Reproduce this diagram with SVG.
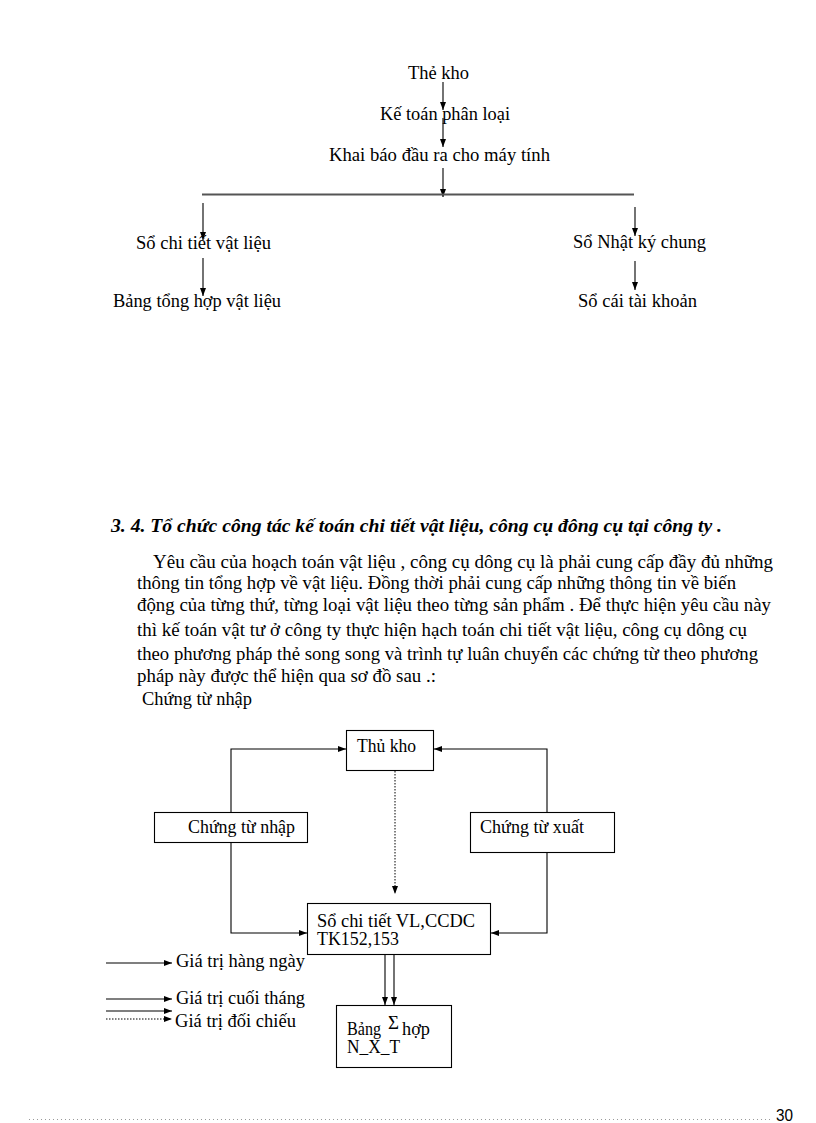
<svg xmlns="http://www.w3.org/2000/svg" width="816" height="1123" viewBox="0 0 816 1123" font-family="'Liberation Serif', 'Times New Roman', serif">
<style>
  text { font-family: 'Liberation Serif', 'Times New Roman', serif; fill: #000; }
  .t { font-size: 18.5px; }
  .h { font-size: 18.5px; font-weight: bold; font-style: italic; }
  .p { font-size: 18.5px; }
  .box { fill: #fff; stroke: #000; stroke-width: 1.1; }
  .ln { fill: none; stroke: #000; stroke-width: 1.1; }
  .dot { fill: none; stroke: #000; stroke-width: 1; stroke-dasharray: 1.5 1.5; }
  text.pg { font-family: 'Liberation Sans', Arial, sans-serif; font-size: 17px; }
</style>
<defs>
  <marker id="ah" viewBox="0 0 8 6" refX="8" refY="3" markerWidth="8" markerHeight="6" orient="auto" markerUnits="userSpaceOnUse">
    <path d="M0,0 L8,3 L0,6 z" fill="#000"/>
  </marker>
</defs>
<rect width="816" height="1123" fill="#fff"/>

<!-- Top flow -->
<g id="top-connectors">
  <line class="ln" x1="443" y1="82" x2="443" y2="110" marker-end="url(#ah)"/>
  <line class="ln" x1="443" y1="118" x2="443" y2="147" marker-end="url(#ah)"/>
  <line class="ln" x1="443" y1="168" x2="443" y2="197" marker-end="url(#ah)"/>
  <line x1="202" y1="194.5" x2="634" y2="194.5" stroke="#555" stroke-width="2"/>
  <line class="ln" x1="203" y1="203" x2="203" y2="240" marker-end="url(#ah)"/>
  <line class="ln" x1="203" y1="258" x2="203" y2="296" marker-end="url(#ah)"/>
  <line class="ln" x1="635" y1="207" x2="635" y2="236" marker-end="url(#ah)"/>
  <line class="ln" x1="635" y1="261" x2="635" y2="290" marker-end="url(#ah)"/>
</g>
<g id="n-thekho"><text class="t" x="408" y="79" textLength="61" lengthAdjust="spacingAndGlyphs">Thẻ kho</text></g>
<g id="n-ketoan"><text class="t" x="380" y="120" textLength="130" lengthAdjust="spacingAndGlyphs">Kế toán phân loại</text></g>
<g id="n-khaibao"><text class="t" x="329" y="161" textLength="221" lengthAdjust="spacingAndGlyphs">Khai  báo đầu ra cho máy tính</text></g>
<g id="n-sochitiet"><text class="t" x="136" y="249" textLength="135" lengthAdjust="spacingAndGlyphs">Sổ chi tiết  vật liệu</text></g>
<g id="n-bangtonghop"><text class="t" x="113" y="307" textLength="168" lengthAdjust="spacingAndGlyphs">Bảng tổng hợp vật liệu</text></g>
<g id="n-sonhatky"><text class="t" x="573" y="248" textLength="133" lengthAdjust="spacingAndGlyphs">Sổ Nhật ký chung</text></g>
<g id="n-socai"><text class="t" x="578" y="307" textLength="119" lengthAdjust="spacingAndGlyphs">Sổ cái tài khoản</text></g>

<!-- Heading and paragraph -->
<text class="h" x="111" y="532" textLength="611" lengthAdjust="spacingAndGlyphs">3. 4. Tổ chức công tác kế toán chi tiết vật liệu, công cụ đông cụ tại công ty .</text>
<text class="p" x="153" y="568" textLength="620" lengthAdjust="spacingAndGlyphs">Yêu cầu của hoạch toán vật liệu  , công cụ dông cụ là phải cung cấp đầy đủ những</text>
<text class="p" x="137" y="589" textLength="599" lengthAdjust="spacingAndGlyphs">thông tin tổng hợp về vật liệu.  Đồng thời phải cung cấp những thông tin về biến</text>
<text class="p" x="137" y="611" textLength="634" lengthAdjust="spacingAndGlyphs">động của từng thứ, từng loại vật liệu  theo từng sản phẩm . Để thực hiện yêu cầu này</text>
<text class="p" x="137" y="636" textLength="610" lengthAdjust="spacingAndGlyphs">thì kế toán vật tư ở công ty thực hiện hạch toán chi tiết vật liệu,  công cụ dông cụ</text>
<text class="p" x="137" y="660" textLength="621" lengthAdjust="spacingAndGlyphs">theo phương pháp thẻ song song và trình tự luân chuyển các chứng từ theo phương</text>
<text class="p" x="137" y="682" textLength="299" lengthAdjust="spacingAndGlyphs">pháp này được thể hiện  qua sơ đồ sau .:</text>
<text class="p" x="142" y="705" textLength="110" lengthAdjust="spacingAndGlyphs">Chứng từ nhập</text>

<!-- Box diagram connectors -->
<g id="connectors">
  <path class="ln" d="M231,812 V749 H346" marker-end="url(#ah)"/>
  <path class="ln" d="M231,842 V933 H307" marker-end="url(#ah)"/>
  <path class="ln" d="M547,812 V749 H434" marker-end="url(#ah)"/>
  <path class="ln" d="M547,852 V933 H491" marker-end="url(#ah)"/>
  <path class="dot" d="M395,762 V894" marker-end="url(#ah)"/>
  <path class="ln" d="M385,954 V1005" marker-end="url(#ah)"/>
  <path class="ln" d="M394,954 V1005" marker-end="url(#ah)"/>
</g>

<g id="n-thukho">
  <rect class="box" x="346.5" y="730.5" width="87" height="40"/>
  <text class="t" x="357" y="752" textLength="59" lengthAdjust="spacingAndGlyphs">Thủ kho</text>
</g>
<g id="n-chungtunhap">
  <rect class="box" x="154.5" y="812.5" width="153" height="30"/>
  <text class="t" x="188" y="833" textLength="107" lengthAdjust="spacingAndGlyphs">Chứng từ nhập</text>
</g>
<g id="n-chungtuxuat">
  <rect class="box" x="470.5" y="812.5" width="144" height="40"/>
  <text class="t" x="480" y="833" textLength="104" lengthAdjust="spacingAndGlyphs">Chứng từ xuất</text>
</g>
<g id="n-sochitietvl">
  <rect class="box" x="307.5" y="903.5" width="183" height="51"/>
  <text class="t" x="317" y="927" font-size="17" textLength="158" lengthAdjust="spacingAndGlyphs">Sổ chi tiết  VL,CCDC</text>
  <text class="t" x="317" y="945" font-size="17" textLength="82" lengthAdjust="spacingAndGlyphs">TK152,153</text>
</g>
<g id="n-bangth">
  <rect class="box" x="336.5" y="1005.5" width="115" height="62"/>
  <text class="t" x="347" y="1035" font-size="17.5" textLength="34" lengthAdjust="spacingAndGlyphs">Bảng</text>
  <text class="t" x="388" y="1029" font-size="16" textLength="11" lengthAdjust="spacingAndGlyphs">Σ</text>
  <text class="t" x="402" y="1035" font-size="17.5" textLength="28" lengthAdjust="spacingAndGlyphs">hợp</text>
  <text class="t" x="347" y="1053" font-size="17.5" textLength="53" lengthAdjust="spacingAndGlyphs">N_X_T</text>
</g>

<!-- Legend -->
<g id="legend">
  <line class="ln" x1="106" y1="963" x2="172" y2="963" marker-end="url(#ah)"/>
  <text class="t" x="176" y="967" textLength="129" lengthAdjust="spacingAndGlyphs">Giá trị  hàng ngày</text>
  <line class="ln" x1="106" y1="999" x2="172" y2="999" marker-end="url(#ah)"/>
  <text class="t" x="176" y="1004" textLength="129" lengthAdjust="spacingAndGlyphs">Giá trị  cuối tháng</text>
  <line class="ln" x1="106" y1="1011" x2="172" y2="1011" marker-end="url(#ah)"/>
  <line class="dot" x1="106" y1="1019" x2="172" y2="1019" marker-end="url(#ah)"/>
  <text class="t" x="175" y="1027" textLength="121" lengthAdjust="spacingAndGlyphs">Giá trị  đối chiếu</text>
</g>

<!-- Footer -->
<line x1="29" y1="1119.5" x2="772" y2="1119.5" stroke="#999" stroke-width="1" stroke-dasharray="1 3"/>
<text class="pg" x="776" y="1121" textLength="17" lengthAdjust="spacingAndGlyphs">30</text>
</svg>
